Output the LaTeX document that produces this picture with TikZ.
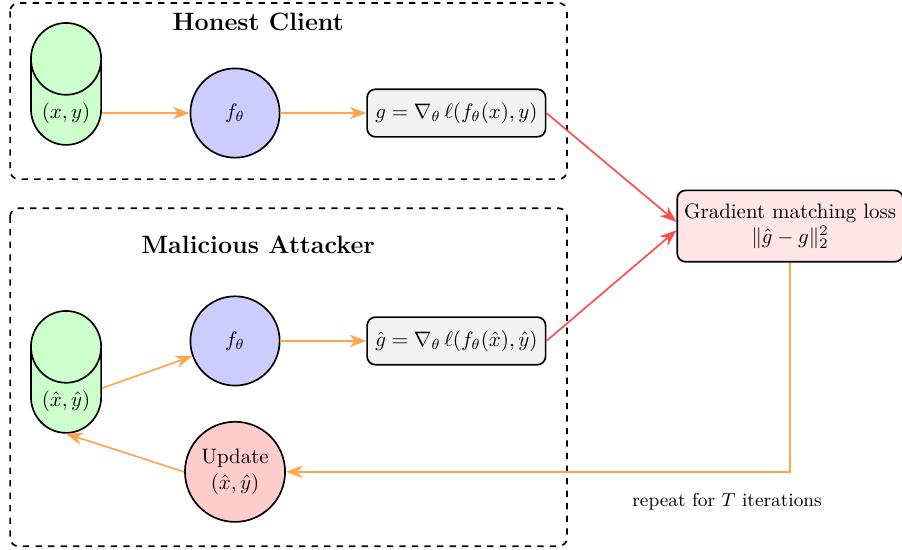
\documentclass[tikz,border=0pt]{standalone}
\usepackage{amssymb,amsmath}
\usetikzlibrary{shapes.geometric}
\usetikzlibrary{arrows.meta}
\definecolor{datagreen}{rgb}{0.8,1,0.8}
\definecolor{modelblue}{rgb}{0.8,0.8,1}
\definecolor{updred}{rgb}{1,0.8,0.8}
\definecolor{losspink}{rgb}{1,0.9,0.9}
\definecolor{gradgray}{rgb}{0.95,0.95,0.95}
\definecolor{floworange}{rgb}{1,0.65,0.3}
\definecolor{matchred}{rgb}{1,0.3,0.3}

\tikzset{
  datastore/.style={cylinder, shape border rotate=90, aspect=1.15, draw, fill=datagreen,
    minimum width=1.18cm, minimum height=2cm},
  model/.style={circle, draw, fill=modelblue, minimum size=1.5cm},
  updnode/.style={circle, draw, fill=updred, minimum size=1.5cm, align=center},
  grad/.style={rectangle, rounded corners, draw, fill=gradgray, minimum width=3cm, minimum height=0.8cm},
  lossbox/.style={rectangle, rounded corners, draw, fill=losspink, minimum height=1.2cm, align=center},
  group/.style={dashed, rounded corners},
  flow/.style={floworange, -{Stealth[length=8pt,width=6pt]}},
  match/.style={matchred, -{Stealth[length=8pt,width=6pt]}}
}

\begin{document}
\begin{tikzpicture}[thick]
\useasboundingbox (0,0) rectangle (15.16,-9.24);

% honest client
\draw[group] (0.17,-0.05) rectangle (9.53,-3.01);
\node (honesttitle) at (4.34,-0.37) {\large\bfseries Honest Client};
\node[datastore] (xy) at (1.11,-1.9) {$(x,y)$};
\node[model] (fh) at (3.95,-1.9) {$f_\theta$};
\node[grad] (gh) at (7.67,-1.9) {$g = \nabla_\theta\, \ell(f_\theta(x), y)$};
\draw[flow] (xy) -- (fh);
\draw[flow] (fh) -- (gh);

% malicious attacker
\draw[group] (0.17,-3.5) rectangle (9.53,-9.18);
\node (attacktitle) at (4.34,-4.12) {\large\bfseries Malicious Attacker};
\node[datastore] (xyhat) at (1.11,-6.74) {$(\hat{x},\hat{y})$};
\node[model] (fa) at (3.95,-5.73) {$f_\theta$};
\node[grad] (ga) at (7.67,-5.73) {$\hat{g} = \nabla_\theta\, \ell(f_\theta(\hat{x}), \hat{y})$};
\node[updnode] (upd) at (3.95,-7.93) {Update\\$(\hat{x},\hat{y})$};
\draw[flow] (xyhat) -- (fa);
\draw[flow] (fa) -- (ga);
\draw[flow] (upd.west) -- (xyhat.south);

% matching
\node[lossbox] (loss) at (13.28,-3.8) {Gradient matching loss\\$\|\hat{g}-g\|_2^2$};
\draw[match] (gh.east) -- ([yshift=2pt]loss.west);
\draw[match] (ga.east) -- ([yshift=-2pt]loss.west);
\draw[flow] (loss.south) |- (upd.east);
\node (repeat) at (12.22,-8.44) {\small repeat for $T$ iterations};

\end{tikzpicture}
\end{document}
